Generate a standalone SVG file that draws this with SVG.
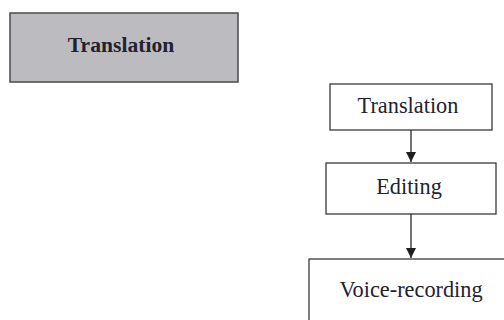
<svg xmlns="http://www.w3.org/2000/svg" width="504" height="320" viewBox="0 0 504 320">
  <style>
    .box { fill: #ffffff; stroke: #3a3a3a; stroke-width: 1.3; }
    .shaded { fill: #bcbcc0; stroke: #4a4a4a; stroke-width: 1.5; }
    .label { font-family: 'Liberation Serif', 'DejaVu Serif', serif; font-size: 22.3px; fill: #22222e; text-anchor: middle; }
    .bold { font-weight: bold; font-size: 21.6px; }
    .link { stroke: #2a2a2a; stroke-width: 1.3; fill: none; }
  </style>
  <defs>
    <marker id="arrow" viewBox="0 0 10 10" refX="10" refY="5" markerWidth="10" markerHeight="10" markerUnits="userSpaceOnUse" orient="auto">
      <path d="M0,0 L10,5 L0,10 Z" fill="#1e1e1e"/>
    </marker>
  </defs>
  <rect width="504" height="320" fill="#ffffff"/>

  <g id="translation-shaded">
    <rect class="shaded" x="10" y="13" width="228" height="69"/>
    <text class="label bold" x="121" y="52">Translation</text>
  </g>

  <g id="translation">
    <rect class="box" x="330" y="84" width="162" height="46"/>
    <text class="label" x="408" y="113">Translation</text>
  </g>

  <g id="editing">
    <rect class="box" x="326" y="163" width="170" height="51"/>
    <text class="label" x="409" y="194">Editing</text>
  </g>

  <g id="voice-recording">
    <rect class="box" x="309" y="259" width="210" height="80"/>
    <text class="label" x="411" y="297">Voice-recording</text>
  </g>

  <g id="connectors">
    <line class="link" x1="411" y1="130" x2="411" y2="162" marker-end="url(#arrow)"/>
    <line class="link" x1="411" y1="214" x2="411" y2="258" marker-end="url(#arrow)"/>
  </g>
</svg>
